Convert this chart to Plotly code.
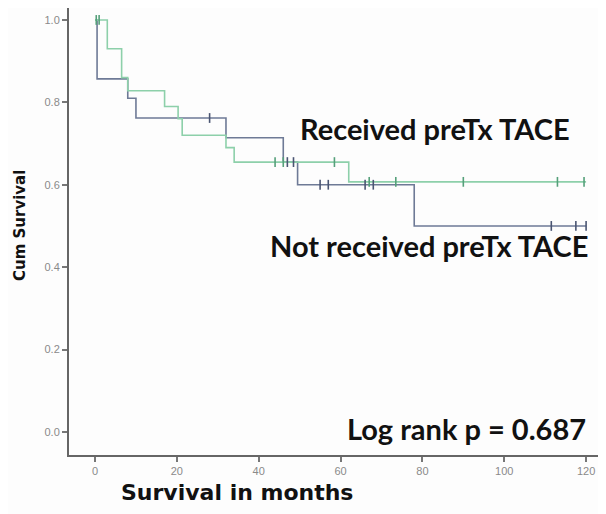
import plotly.graph_objects as go

# Not received preTx TACE (step curve)
months_not = [0, 0.5, 8, 10, 32, 46, 49.5, 78, 120]
surv_not = [1.0, 0.857, 0.81, 0.762, 0.714, 0.655, 0.60, 0.50, 0.50]
cens_not_m = [28, 47, 48.5, 55, 57, 66, 68, 111.5, 117.5, 120]
cens_not_s = [0.762, 0.655, 0.655, 0.60, 0.60, 0.60, 0.60, 0.50, 0.50, 0.50]

# Received preTx TACE (step curve)
months_rec = [0, 3, 6.5, 8, 17, 20.3, 21.3, 32, 34, 62, 120]
surv_rec = [1.0, 0.93, 0.86, 0.828, 0.79, 0.76, 0.72, 0.69, 0.655, 0.607, 0.607]
cens_rec_m = [0.3, 1.0, 44, 46, 58.5, 67, 73.5, 90, 113, 119.5]
cens_rec_s = [1.0, 1.0, 0.655, 0.655, 0.655, 0.607, 0.607, 0.607, 0.607, 0.607]

x_ticks = [0, 20, 40, 60, 80, 100, 120]
y_ticks = [0.0, 0.2, 0.4, 0.6, 0.8, 1.0]

BLUE = "#6e7a96"
BLUE_D = "#4a5572"
GREEN = "#8dd0aa"
GREEN_D = "#55a07a"

fig = go.Figure()
fig.add_trace(go.Scatter(x=months_not, y=surv_not, mode="lines", line_shape="hv",
                         line=dict(color=BLUE, width=1.6), showlegend=False, hoverinfo="skip"))
fig.add_trace(go.Scatter(x=months_rec, y=surv_rec, mode="lines", line_shape="hv",
                         line=dict(color=GREEN, width=1.6), showlegend=False, hoverinfo="skip"))
fig.add_trace(go.Scatter(x=cens_not_m, y=cens_not_s, mode="markers",
                         marker=dict(symbol="line-ns-open", size=7, color=BLUE_D,
                                     line=dict(color=BLUE_D, width=1.6)),
                         showlegend=False, hoverinfo="skip"))
fig.add_trace(go.Scatter(x=cens_rec_m, y=cens_rec_s, mode="markers",
                         marker=dict(symbol="line-ns-open", size=7, color=GREEN_D,
                                     line=dict(color=GREEN_D, width=1.6)),
                         showlegend=False, hoverinfo="skip"))

label_font = dict(family="Lato", size=29, color="#111111")

fig.add_annotation(text="<b>Received preTx TACE</b>", xref="paper", yref="paper",
                   x=0.431, y=0.7315, xanchor="left", yanchor="middle", showarrow=False, font=label_font)
fig.add_annotation(text="<b>Not received preTx TACE</b>", xref="paper", yref="paper",
                   x=0.375, y=0.4676, xanchor="left", yanchor="middle", showarrow=False, font=label_font)
fig.add_annotation(text="<b>Log rank p = 0.687</b>", xref="paper", yref="paper",
                   x=0.52, y=0.0604, xanchor="left", yanchor="middle", showarrow=False, font=label_font)
fig.add_annotation(text="<b>Survival in months</b>", xref="paper", yref="paper",
                   x=0.317, y=-0.085, xanchor="center", yanchor="middle", showarrow=False,
                   font=dict(family="DejaVu Sans", size=22, color="#111111"))
fig.add_annotation(text="<b>Cum Survival</b>", xref="paper", yref="paper",
                   x=-0.0923, y=0.5145, xanchor="center", yanchor="middle", showarrow=False,
                   textangle=-90, font=dict(family="DejaVu Sans", size=15, color="#111111"))

fig.update_xaxes(range=[-6.36, 123.4], tickvals=x_ticks, ticktext=[str(v) for v in x_ticks],
                 showgrid=False, zeroline=False, showline=True, linecolor="#666666", linewidth=2,
                 ticks="outside", ticklen=5, tickwidth=1.5, tickcolor="#777777", automargin=False,
                 tickfont=dict(family="Liberation Sans", size=11, color="#8a8a8a"))
fig.update_yaxes(range=[-0.056, 1.029], tickvals=y_ticks, ticktext=[f"{v:.1f}" for v in y_ticks],
                 showgrid=False, zeroline=False, showline=True, linecolor="#666666", linewidth=2,
                 ticks="outside", ticklen=5, tickwidth=1.5, tickcolor="#777777", automargin=False,
                 tickfont=dict(family="Liberation Sans", size=11, color="#8a8a8a"))

# the page body adds an 8px offset at left/top, so the figure is 8px smaller than the window
fig.update_layout(width=598, height=506, margin=dict(l=61, r=6, t=0, b=59),
                  paper_bgcolor="#fdfdfd", plot_bgcolor="#fdfdfd")

fig.write_html("out.html")
